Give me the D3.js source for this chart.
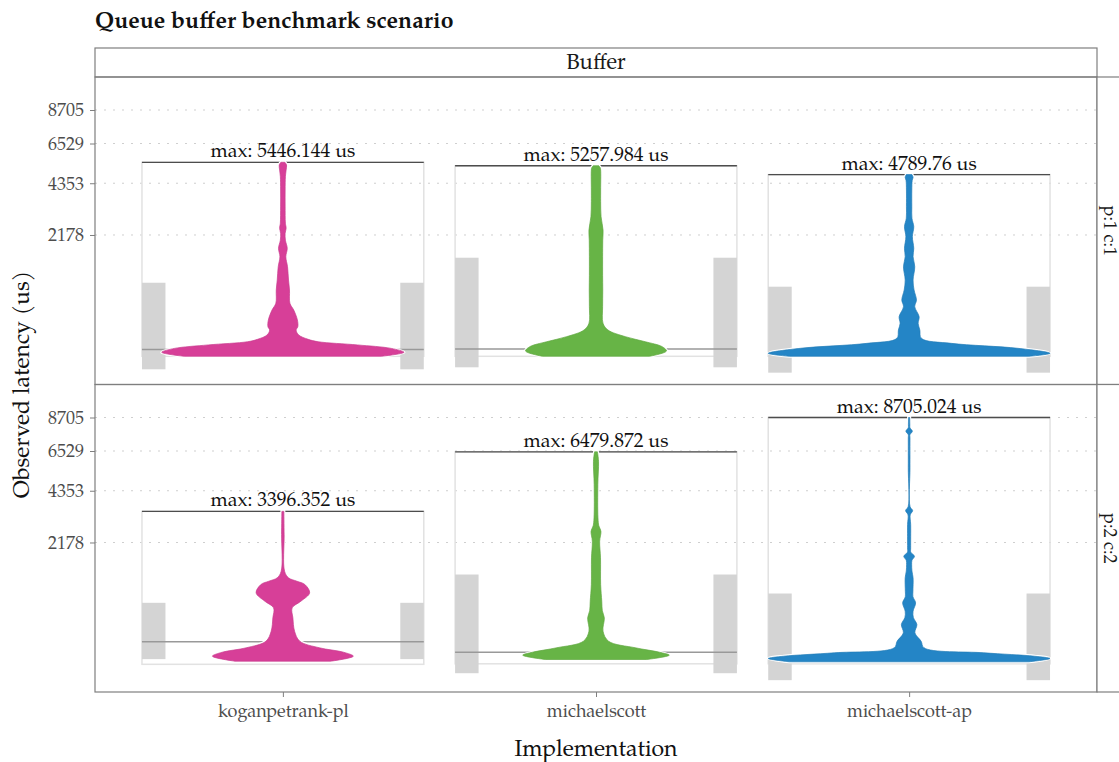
<!DOCTYPE html>
<html><head><meta charset="utf-8">
<script src="https://cdn.jsdelivr.net/npm/d3@7"></script>
<style>
body{margin:0;background:#fff;}
svg{display:block;font-family:"Palatino Linotype",Palatino,"Book Antiqua","TeX Gyre Pagella","P052","URW Palladio L","Liberation Serif",serif;}
</style></head><body><svg id="c" width="1119" height="762"></svg>
<script>
// ---------------- data ----------------
const title = "Queue buffer benchmark scenario";
const colStrip = "Buffer";
const categories = ["koganpetrank-pl", "michaelscott", "michaelscott-ap"];
const rowLabels = ["p:1 c:1", "p:2 c:2"];
const colors = ["#d73f98", "#67b446", "#2485c6"];
const yTickValues = [2178, 4353, 6529, 8705];
const yTopValue = 8705.024;
const maxLatencyP1 = [5446.144, 5257.984, 4789.76];
const maxLatencyP2 = [3396.352, 6479.872, 8705.024];
const minLatencyP1 = [2, 2, 2];
const minLatencyP2 = [1.5, 2, 2];
const bandLowP1 = [-11.8, -7.2, -22];
const bandLowP2 = [10, -4.4, -22];
const bandHighP1 = [833, 1459, 750];
const bandHighP2 = [584, 1206, 764];
const medianP1 = [16, 17, 8];
const medianP2 = [93, 33, 11];
// violin profiles: [latency, relative density]
const violinKoganP1 = [[2,0.7],[8.5,0.86],[19,0.77],[32,0.53],[47,0.25],[60,0.18],[88,0.112],[126,0.094],[155,0.106],[224,0.103],[349,0.077],[449,0.05],[684,0.047],[893,0.04],[1214,0.033],[1487,0.021],[1739,0.031],[2000,0.018],[2237,0.016],[2417,0.023],[2604,0.018],[3300,0.016],[4026,0.016],[4700,0.018],[5028,0.023],[5296,0.026],[5446.144,0.014]];
const violinMsP1 = [[2,0.38],[11.5,0.5],[25,0.47],[47,0.35],[76,0.21],[126,0.085],[188,0.05],[400,0.047],[684,0.048],[1000,0.047],[1487,0.047],[2000,0.048],[2355,0.05],[2861,0.036],[3500,0.033],[4026,0.033],[5028,0.033],[5150,0.03],[5257.984,0.02]];
const violinMsApP1 = [[2,0.85],[6.4,1.0],[19.4,0.77],[39,0.3],[66,0.087],[126,0.076],[188,0.064],[262,0.071],[397,0.04],[502,0.052],[684,0.035],[893,0.028],[1214,0.04],[1487,0.028],[1739,0.033],[2119,0.023],[2476,0.033],[2800,0.02],[3274,0.019],[4026,0.019],[4500,0.022],[4650,0.028],[4789.76,0.02]];
const violinKoganP2 = [[5.7,0.34],[18,0.5],[33,0.43],[54.5,0.26],[97,0.12],[184,0.083],[345,0.071],[497,0.066],[613,0.128],[778,0.19],[961,0.156],[1038,0.1],[1122,0.04],[1293,0.012],[2465,0.009],[3396.352,0.007]];
const violinMsP2 = [[9.1,0.36],[21.4,0.52],[33,0.45],[54.5,0.28],[97,0.089],[184,0.05],[345,0.059],[450,0.045],[613,0.041],[961,0.033],[1677,0.032],[2223,0.026],[2588,0.035],[2800,0.02],[3122,0.014],[4664,0.013],[5927,0.018],[6479.872,0.01]];
const violinMsApP2 = [[4.7,0.85],[11.5,1.0],[18,0.89],[30.5,0.53],[54.5,0.106],[97,0.085],[168,0.041],[258,0.055],[350,0.03],[443,0.028],[584,0.046],[700,0.027],[812,0.027],[1122,0.028],[1300,0.02],[1479,0.018],[1600,0.02],[1727,0.038],[1850,0.012],[1997,0.011],[2849,0.011],[3250,0.008],[3431,0.025],[3600,0.007],[5554,0.006],[7347,0.006],[7550,0.006],[7775,0.023],[8000,0.006],[8222,0.005],[8705.024,0.004]];

const rows = [
  {label: rowLabels[0], max: maxLatencyP1, min: minLatencyP1, lo: bandLowP1, hi: bandHighP1, med: medianP1, v: [violinKoganP1, violinMsP1, violinMsApP1]},
  {label: rowLabels[1], max: maxLatencyP2, min: minLatencyP2, lo: bandLowP2, hi: bandHighP2, med: medianP2, v: [violinKoganP2, violinMsP2, violinMsApP2]}
];

// ---------------- layout ----------------
const svg = d3.select("#c");
const L = 95, R = 1097, stripTop = 48, panelTop = 77, panelH = 307.5;
const x = d3.scalePoint().domain(categories).range([L, R]).padding(0.6);
const half = x.step() * 0.45;
const wScale = d3.scaleLinear().domain([0, 1]).range([0, half]);
const y = d3.scaleSqrt().domain([0, yTopValue]).range([283.1, 33]);
const axisCol = "#4d4d4d";

svg.append("text").attr("x", L).attr("y", 28).attr("font-weight", "bold").attr("font-size", 23).attr("fill", "#111").text(title);

// column strip
svg.append("rect").attr("x", L).attr("y", stripTop).attr("width", R - L).attr("height", panelTop - stripTop).attr("fill", "#fff").attr("stroke", "#7f7f7f").attr("stroke-width", 1.2);
svg.append("text").attr("x", (L + R) / 2).attr("y", (stripTop + panelTop) / 2 + 1).attr("text-anchor", "middle").attr("dominant-baseline", "central").attr("font-size", 22).attr("fill", "#1a1a1a").text(colStrip);

rows.forEach((row, ri) => {
  const top = panelTop + ri * panelH;
  const g = svg.append("g").attr("transform", `translate(0,${top})`);
  // grid
  g.selectAll("line.grid").data(yTickValues).join("line").attr("class", "grid")
    .attr("x1", L).attr("x2", R).attr("y1", d => y(d)).attr("y2", d => y(d))
    .attr("stroke", "#cfcfcf").attr("stroke-width", 1).attr("stroke-dasharray", "2,7");
  // y axis
  const ya = g.append("g").attr("transform", `translate(${L},0)`).call(d3.axisLeft(y).tickValues(yTickValues).tickSize(5).tickPadding(6).tickFormat(d3.format("d")));
  ya.select(".domain").remove();
  ya.selectAll("line").attr("stroke", "#7f7f7f");
  ya.selectAll("text").attr("font-size", 18).attr("fill", axisCol);
  ya.attr("font-family", null);

  categories.forEach((cat, ci) => {
    const cx = x(cat);
    const x0 = cx - half, x1 = cx + half;
    // outline min..max
    g.append("rect").attr("x", x0).attr("width", x1 - x0)
      .attr("y", y(row.max[ci])).attr("height", y(row.min[ci]) - y(row.max[ci]))
      .attr("fill", "none").attr("stroke", "#e2e2e2").attr("stroke-width", 1.5);
    // side bands
    const bw = x.step() * 0.075;
    [x0, x1 - bw].forEach(bx => {
      g.append("rect").attr("x", bx).attr("width", bw)
        .attr("y", y(row.hi[ci])).attr("height", y(row.lo[ci]) - y(row.hi[ci]))
        .attr("fill", "#d4d4d4");
    });
    // median line
    g.append("line").attr("x1", x0).attr("x2", x1).attr("y1", y(row.med[ci])).attr("y2", y(row.med[ci]))
      .attr("stroke", "#999").attr("stroke-width", 1.5);
    // max line
    g.append("line").attr("x1", x0).attr("x2", x1).attr("y1", y(row.max[ci])).attr("y2", y(row.max[ci]))
      .attr("stroke", "#4d4d4d").attr("stroke-width", 1.3);
    g.append("text").attr("x", cx).attr("y", y(row.max[ci]) - 5).attr("text-anchor", "middle")
      .attr("font-size", 19.5).attr("fill", "#111").text(`max: ${row.max[ci]} us`);
    // violin
    const area = d3.area().curve(d3.curveCatmullRom.alpha(0.5))
      .y(d => y(d[0])).x0(d => cx - wScale(d[1])).x1(d => cx + wScale(d[1]));
    g.append("path").datum(row.v[ci]).attr("d", area).attr("fill", "#fff").attr("stroke", "#fff").attr("stroke-width", 3);
    g.append("path").datum(row.v[ci]).attr("d", area).attr("fill", colors[ci]).attr("stroke", d3.color(colors[ci]).darker(0.2)).attr("stroke-width", 0.7);
  });

  // panel border
  g.append("rect").attr("x", L).attr("y", 0).attr("width", R - L).attr("height", panelH).attr("fill", "none").attr("stroke", "#7f7f7f").attr("stroke-width", 1.2);
  // row strip
  g.append("rect").attr("x", R).attr("y", 0).attr("width", 40).attr("height", panelH).attr("fill", "#fff").attr("stroke", "#7f7f7f").attr("stroke-width", 1.2);
  g.append("text").attr("transform", `translate(1108,${panelH / 2}) rotate(90)`).attr("text-anchor", "middle").attr("dominant-baseline", "central")
    .attr("font-size", 18).attr("fill", "#1a1a1a").text(row.label);
});

// x axis
const bottom = panelTop + 2 * panelH;
const xa = svg.append("g").attr("transform", `translate(0,${bottom})`).call(d3.axisBottom(x).tickSize(5).tickPadding(7));
xa.select(".domain").remove();
xa.selectAll("line").attr("stroke", "#7f7f7f");
xa.selectAll("text").attr("font-size", 18).attr("fill", axisCol);
xa.attr("font-family", null);

svg.append("text").attr("x", (L + R) / 2).attr("y", 756).attr("text-anchor", "middle").attr("font-size", 23).attr("fill", "#111").text("Implementation");
svg.append("text").attr("transform", `translate(29,${panelTop + panelH}) rotate(-90)`).attr("text-anchor", "middle").attr("font-size", 23).attr("fill", "#111").text("Observed latency (us)");
</script></body></html>
